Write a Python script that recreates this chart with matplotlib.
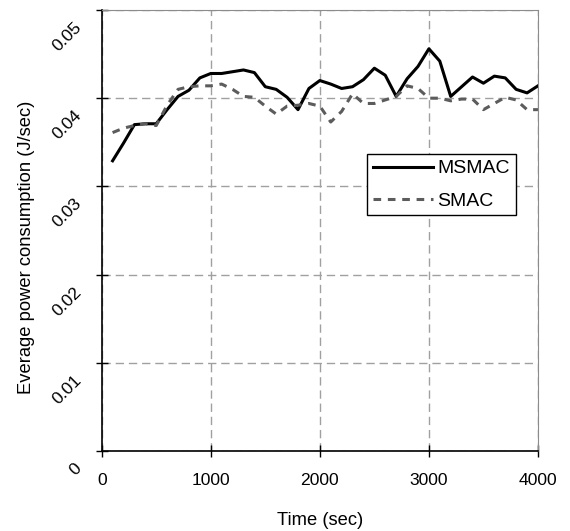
import numpy as np
import matplotlib
matplotlib.use('Agg')
import matplotlib.pyplot as plt
from matplotlib.transforms import offset_copy

plt.rcParams['font.family'] = ['Liberation Sans', 'DejaVu Sans']

# time axis, one sample every 100 s
time = np.arange(100, 4100, 100)

msmac = [0.0329, 0.0349, 0.0370, 0.0371, 0.0371, 0.0387, 0.0402, 0.0409, 0.0423, 0.0428,
         0.0428, 0.0430, 0.0432, 0.0429, 0.0413, 0.0410, 0.0401, 0.0387, 0.0411, 0.0420,
         0.0416, 0.0411, 0.0413, 0.0421, 0.0434, 0.0426, 0.0402, 0.0422, 0.0436, 0.0456,
         0.0442, 0.0402, 0.0413, 0.0424, 0.0417, 0.0425, 0.0423, 0.0410, 0.0406, 0.0414]

smac = [0.0361, 0.0366, 0.0369, 0.0371, 0.0369, 0.0392, 0.0410, 0.0413, 0.0414, 0.0414,
        0.0416, 0.0410, 0.0402, 0.0401, 0.0391, 0.0382, 0.0391, 0.0392, 0.0394, 0.0391,
        0.0373, 0.0385, 0.0405, 0.0394, 0.0394, 0.0398, 0.0402, 0.0414, 0.0411, 0.0400,
        0.0400, 0.0397, 0.0399, 0.0399, 0.0387, 0.0394, 0.0401, 0.0398, 0.0387, 0.0387]

xticks = [0, 1000, 2000, 3000, 4000]
yticks = [0, 0.01, 0.02, 0.03, 0.04, 0.05]
ytick_labels = ['0', '0.01', '0.02', '0.03', '0.04', '0.05']

fig = plt.figure(figsize=(5.7, 5.31), dpi=100)
# plot area: x 101.7..538 px, y 10..451 px
ax = fig.add_axes([0.1784, 0.1507, 0.7654, 0.8305])

ax.plot(time, msmac, color='black', lw=2.2, label='MSMAC', zorder=3)
ax.plot(time, smac, color='#5c5c5c', lw=2.2, ls=(0, (2.5, 2.2)), label='SMAC', zorder=3)

ax.set_xlim(0, 4000)
ax.set_ylim(0, 0.05)
ax.set_xticks(xticks)
ax.set_yticks(yticks)
ax.set_yticklabels([])
ax.tick_params(direction='inout', length=8, width=1, labelsize=12.6)
ax.tick_params(axis='x', pad=12)

# rotated y tick labels, Excel style (sitting below-left of each tick)
ytrans = offset_copy(ax.get_yaxis_transform(), fig=fig, x=-23, y=-15, units='dots')
for v, lab in zip(yticks, ytick_labels):
    ax.text(0, v, lab, transform=ytrans, rotation=45, rotation_mode='anchor',
            ha='right', va='center', fontsize=12.6, clip_on=False)

ax.grid(True, color='#a0a0a0', ls=(0, (6, 3.5)), lw=1)
ax.spines['top'].set_color('#8c8c8c')
ax.spines['right'].set_color('#8c8c8c')
ax.spines['left'].set_linewidth(1.2)
ax.spines['bottom'].set_linewidth(1.2)

ax.set_xlabel('Time (sec)', fontsize=13.2, labelpad=17)
ax.set_ylabel('Everage power consumption (J/sec)', fontsize=13.2)
ax.yaxis.set_label_coords(-0.153, 0.4626)

leg = ax.legend(loc='upper left', bbox_to_anchor=(0.609, 0.6735), borderaxespad=0,
                fontsize=14, fancybox=False, framealpha=1, edgecolor='black',
                handlelength=3.1, handletextpad=0.2, borderpad=0.3, labelspacing=0.75)
leg.get_frame().set_linewidth(1)

fig.savefig('out.png', dpi=100)
